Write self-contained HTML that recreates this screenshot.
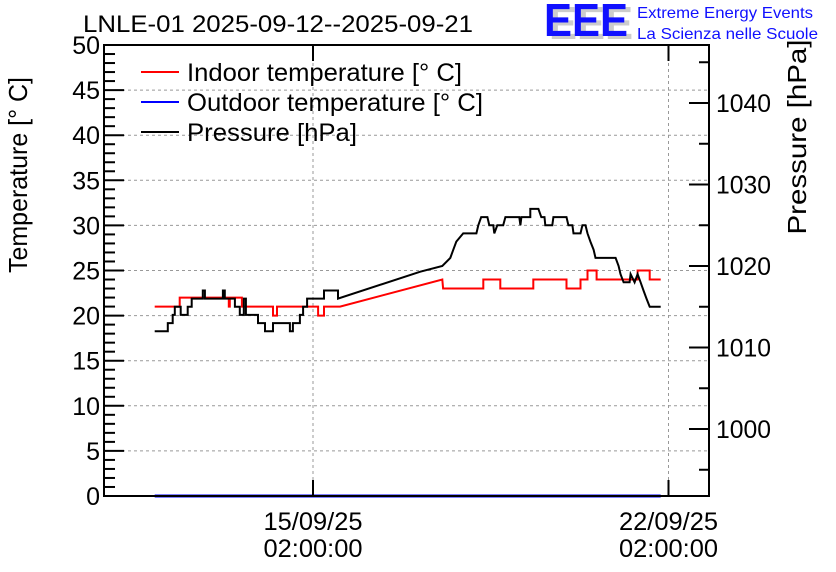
<!DOCTYPE html>
<html><head><meta charset="utf-8"><style>
html,body{margin:0;padding:0;background:#fff;}
svg{display:block;font-family:"Liberation Sans",Arial,sans-serif;}
</style></head><body>
<svg id="chart" width="836" height="572" viewBox="0 0 836 572" xmlns="http://www.w3.org/2000/svg">
<rect width="836" height="572" fill="#fff"/>
<g id="grid"></g>
<g id="series"></g>
<g id="axes"></g>
<text x="83" y="32" font-size="24" fill="#000" textLength="390" lengthAdjust="spacingAndGlyphs">LNLE-01 2025-09-12--2025-09-21</text>
<g>
<text x="549" y="39" font-size="46" font-weight="bold" fill="#ccc" textLength="84" lengthAdjust="spacingAndGlyphs">EEE</text>
<text x="544" y="36" font-size="46" font-weight="bold" fill="#1010ff" textLength="84" lengthAdjust="spacingAndGlyphs">EEE</text>
<text x="637" y="18" font-size="16" fill="#1010ff" textLength="176" lengthAdjust="spacingAndGlyphs">Extreme Energy Events</text>
<text x="637" y="39" font-size="16" fill="#1010ff" textLength="181" lengthAdjust="spacingAndGlyphs">La Scienza nelle Scuole</text>
</g>
<text transform="translate(27,175) rotate(-90)" text-anchor="middle" font-size="26" textLength="196" lengthAdjust="spacingAndGlyphs">Temperature [° C]</text>
<text transform="translate(806,137) rotate(-90)" text-anchor="middle" font-size="26" textLength="195" lengthAdjust="spacingAndGlyphs">Pressure [hPa]</text>
<g>
<g><line x1="141" y1="72" x2="179" y2="72" stroke="#ff0000" stroke-width="2"/><text x="187" y="81" font-size="25" textLength="275" lengthAdjust="spacingAndGlyphs">Indoor temperature [° C]</text></g>
<g><line x1="141" y1="102" x2="179" y2="102" stroke="#0000ff" stroke-width="2"/><text x="187" y="111" font-size="25" textLength="296" lengthAdjust="spacingAndGlyphs">Outdoor temperature [° C]</text></g>
<g><line x1="141" y1="132" x2="179" y2="132" stroke="#000" stroke-width="2"/><text x="187" y="141" font-size="25" textLength="170" lengthAdjust="spacingAndGlyphs">Pressure [hPa]</text></g>
</g>
</svg>
<script>
// hours relative to 15/09/25 02:00:00
const indoorTimes=[-74.8,-63,-63,-39.8,-39.8,-39.3,-39.3,-33.6,-33.6,-18.9,-18.9,-17,-17,2.4,2.4,5.2,5.2,12.8,61.1,61.5,80.5,80.5,88.5,88.5,104.1,104.1,119.8,119.8,126.4,126.4,129.7,129.7,134,134,153.4,153.4,159.1,159.1,164.3];
const indoorValues=[21,21,22,22,21,21,22,22,21,21,20,20,21,21,20,20,21,21,24,23,23,24,24,23,23,24,24,23,23,24,24,25,25,24,24,25,25,24,24];
const outdoorTimes=[-74.8,164.3];
const outdoorValues=[0,0];
const pressureTimes=[-74.8,-68.6,-68.6,-66.3,-66.3,-65.3,-65.3,-62.5,-62.5,-59.2,-59.2,-57.3,-57.3,-52.1,-52.1,-51.1,-51.1,-42.6,-42.6,-41.7,-41.7,-36.9,-36.9,-34.6,-34.6,-32.7,-32.7,-31.7,-31.7,-26.0,-26.0,-22.7,-22.7,-18.9,-18.9,-10.9,-10.9,-9.5,-9.5,-6.2,-6.2,-4.7,-4.7,-2.8,-2.8,5.2,5.2,11.8,11.8,50.7,61.1,64.9,66.3,67.7,71.0,77.2,78.1,79.5,82.4,83.3,85.2,85.7,87.1,89.9,90.9,97.5,98.0,98.5,102.7,102.7,106.5,107.9,109.4,109.8,113.1,113.6,119.8,120.7,122.6,123.1,126.4,127.3,128.8,129.7,131.1,132.6,133.5,143.0,144.4,145.3,146.8,149.6,150.1,152.0,153.4,154.8,156.2,157.6,159.1,164.3];
const pressureValues=[1012,1012,1013,1013,1014,1014,1015,1015,1014,1014,1015,1015,1016,1016,1017,1017,1016,1016,1017,1017,1016,1016,1015,1015,1014,1014,1016,1016,1014,1014,1013,1013,1012,1012,1013,1013,1012,1012,1013,1013,1014,1014,1015,1015,1016,1016,1017,1017,1016,1019.3,1020,1021,1022,1023,1024,1024,1025,1026,1026,1025,1025,1024,1025,1025,1026,1026,1025,1026,1026,1027,1027,1026,1026,1025,1025,1026,1026,1025,1025,1024,1024,1025,1025,1024,1023,1022,1021,1021,1020,1019,1018,1018,1019,1018,1019,1018,1017,1016,1015,1015];
const tempTicks=[0,5,10,15,20,25,30,35,40,45,50];
const pressTicks=[1000,1010,1020,1030,1040];
const timeTicks=[0,168];
const timeTickLabels=[["15/09/25","02:00:00"],["22/09/25","02:00:00"]];

const L=104,R=709,T=45,B=496;
const xS=h=>313+h*(355.5/168);
const yT=v=>B-(v/50)*(B-T);
const yP=p=>103+(1040-p)*8.15;
const NS="http://www.w3.org/2000/svg";
function mk(tag,attrs,parent){const e=document.createElementNS(NS,tag);for(const k in attrs)e.setAttribute(k,attrs[k]);parent.appendChild(e);return e;}
const grid=document.getElementById('grid'),ser=document.getElementById('series'),ax=document.getElementById('axes');

tempTicks.forEach(v=>{if(v>0&&v<50){const g=mk('line',{x1:L,x2:R,y1:yT(v),y2:yT(v),stroke:'#999','stroke-dasharray':'3,3','stroke-width':1},grid);

}});
timeTicks.forEach(h=>{const g=mk('line',{x1:xS(h),x2:xS(h),y1:T,y2:B,stroke:'#999','stroke-dasharray':'3,3','stroke-width':1},grid);

});

function line(ts,vs,scale,color,name,w){const pts=ts.map((t,i)=>xS(t).toFixed(1)+','+scale(vs[i]).toFixed(1)).join(' ');
const p=mk('polyline',{points:pts,fill:'none',stroke:color,'stroke-width':w},ser);

}
line(indoorTimes,indoorValues,yT,'#ff0000','indoor-temperature-line',2);
line(outdoorTimes,outdoorValues,yT,'#0000ff','outdoor-temperature-line',3);
line(pressureTimes,pressureValues,yP,'#000','pressure-line',2);

const fr=mk('rect',{x:L,y:T,width:R-L,height:B-T,fill:'none',stroke:'#000','stroke-width':2},ax);


for(let v=0;v<=50;v++){const len=v%5===0?20:11;const t=mk('line',{x1:L,x2:L+len,y1:yT(v),y2:yT(v),stroke:'#000','stroke-width':2},ax);

}
tempTicks.forEach(v=>{const t=mk('text',{x:L-4,y:yT(v)+9,'text-anchor':'end','font-size':25},ax);t.textContent=String(v);

});
for(let p=995;p<=1045;p+=5){const len=p%10===0?20:10;const t=mk('line',{x1:R-len,x2:R,y1:yP(p),y2:yP(p),stroke:'#000','stroke-width':2},ax);

}
pressTicks.forEach(p=>{const t=mk('text',{x:R+7,y:yP(p)+9,'font-size':25,textLength:55,lengthAdjust:'spacingAndGlyphs'},ax);t.textContent=String(p);

});
timeTicks.forEach((h,i)=>{const x=xS(h);
[[B,B-16],[T,T+16]].forEach(([a,b])=>{const t=mk('line',{x1:x,x2:x,y1:a,y2:b,stroke:'#000','stroke-width':2},ax);

});
timeTickLabels[i].forEach((s,j)=>{const t=mk('text',{x:x,y:530+j*27,'text-anchor':'middle','font-size':25,textLength:99,lengthAdjust:'spacingAndGlyphs'},ax);t.textContent=s;

});});
</script>
</body></html>
